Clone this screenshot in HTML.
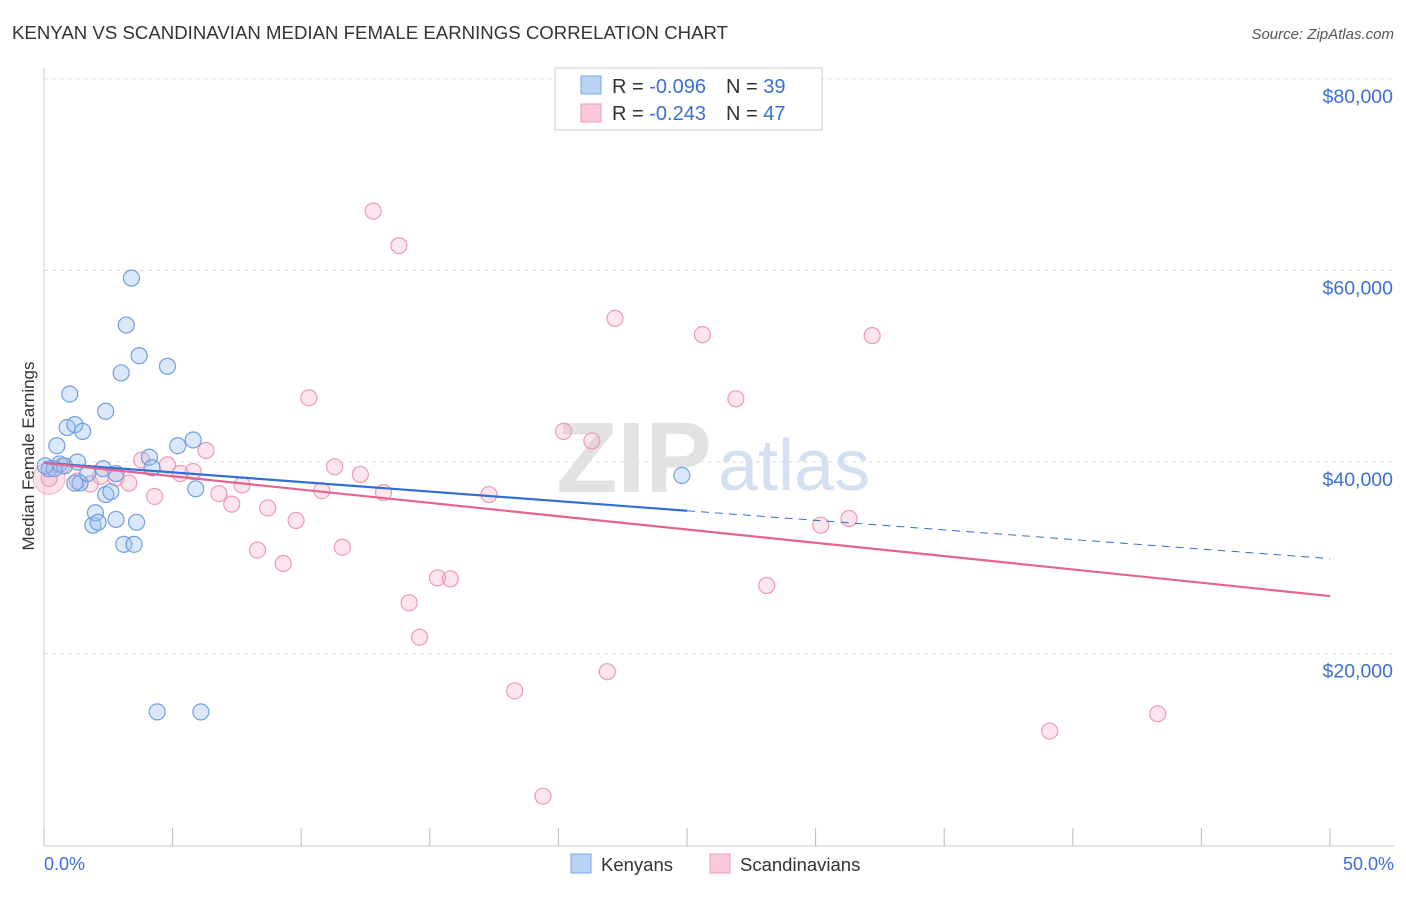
<!DOCTYPE html>
<html><head><meta charset="utf-8"><style>
body{margin:0;background:#fff;font-family:"Liberation Sans",sans-serif;}
svg text{font-family:"Liberation Sans",sans-serif;}
</style></head><body>
<svg id="c" width="1406" height="892" xmlns="http://www.w3.org/2000/svg">
<text x="12" y="39" font-size="18.6" fill="#333" textLength="716">KENYAN VS SCANDINAVIAN MEDIAN FEMALE EARNINGS CORRELATION CHART</text>
<text x="1394" y="39" font-size="15" fill="#555" text-anchor="end" font-style="italic">Source: ZipAtlas.com</text>
<g id="grid"></g>
<text x="712" y="492" font-size="100" fill="#e2e2e2" text-anchor="end" font-family="Liberation Serif" font-weight="bold">ZIP</text>
<text x="718" y="490" font-size="72" fill="#d3e0f2">atlas</text>
<line x1="44" y1="68" x2="44" y2="846" stroke="#ccc"/>
<line x1="44" y1="846" x2="1394" y2="846" stroke="#ccc"/>
<g id="ticks"></g>
<g id="ylabels"></g>
<text x="44" y="870" font-size="18" fill="#3b6fd4">0.0%</text>
<text x="1394" y="870" font-size="18" fill="#3b6fd4" text-anchor="end">50.0%</text>
<text transform="translate(34,456) rotate(-90)" font-size="17" fill="#333" text-anchor="middle">Median Female Earnings</text>
<g id="pts"></g>
<g id="lines"></g>
<g>
<rect x="555" y="68" width="267" height="62" fill="#fff" stroke="#ccc"/>
<rect x="581" y="76" width="20" height="18" fill="#b8d3f5" stroke="#7aa7e6"/>
<rect x="581" y="104" width="20" height="18" fill="#f9c9d8" stroke="#ee9ab5"/>
<text x="612" y="93" font-size="20" fill="#333">R = <tspan fill="#3b6fd4">-0.096</tspan><tspan dx="20">N = </tspan><tspan fill="#3b6fd4">39</tspan></text>
<text x="612" y="120" font-size="20" fill="#333">R = <tspan fill="#3b6fd4">-0.243</tspan><tspan dx="20">N = </tspan><tspan fill="#3b6fd4">47</tspan></text>
</g>
<g>
<rect x="571" y="854" width="20" height="19" fill="#b8d3f5" stroke="#7aa7e6"/>
<text x="601" y="871" font-size="18.5" fill="#333">Kenyans</text>
<rect x="710" y="854" width="20" height="19" fill="#f9c9d8" stroke="#ee9ab5"/>
<text x="740" y="871" font-size="18.5" fill="#333">Scandinavians</text>
</g>
</svg>
<script>
const yTicks=[20000,40000,60000,80000];
const yTickLabels=["$20,000","$40,000","$60,000","$80,000"];
const xTicks=[0,5,10,15,20,25,30,35,40,45,50];
const kenX=[0.2,0.5,0.6,0.8,1.0,0.9,1.2,1.5,1.3,1.4,1.2,1.9,2.0,2.1,2.3,2.4,2.4,2.6,2.8,2.8,3.0,3.2,3.1,3.5,3.4,3.7,3.6,4.1,4.2,4.4,4.8,5.2,5.8,5.9,6.1,24.8,1.7,0.4,0.05];
const kenY=[39300,41700,39800,39600,47100,43600,43900,43200,40000,37800,37800,33400,34700,33700,39300,45300,36600,36900,34000,38800,49300,54300,31400,31400,59200,51100,33700,40500,39400,13900,50000,41700,42300,37200,13900,38600,38800,39300,39600];
const scaX=[0.2,0.7,1.3,1.8,2.8,3.3,3.8,4.3,4.8,5.3,5.8,6.3,6.8,7.3,7.7,8.3,8.7,9.3,9.8,10.3,10.8,11.3,11.6,12.3,12.8,13.2,13.8,14.2,14.6,15.3,15.8,17.3,18.3,19.4,20.2,21.3,21.9,22.2,25.6,26.9,28.1,30.2,31.3,32.2,39.1,43.3,2.2];
const scaY=[38300,39600,38000,37700,38300,37800,40200,36400,39700,38800,39000,41200,36700,35600,37600,30800,35200,29400,33900,46700,37000,39500,31100,38700,66200,36800,62600,25300,21700,27900,27800,36600,16100,5100,43200,42200,18100,55000,53300,46600,27100,33400,34100,53200,11900,13700,38500];
const NS="http://www.w3.org/2000/svg";
const X=v=>44+v/50*1286, Y=v=>845-v/20000*191.5;
function mk(t,a,p){const e=document.createElementNS(NS,t);for(const k in a)e.setAttribute(k,a[k]);p.appendChild(e);return e;}
const g=document.getElementById('grid'),yl=document.getElementById('ylabels'),tk=document.getElementById('ticks');
yTicks.forEach((v,i)=>{
 const l=mk('line',{x1:44,x2:1394,y1:Y(v),y2:Y(v),stroke:'#ddd','stroke-dasharray':'4,4'},g);
 
 
 const t=mk('text',{x:1393,y:Y(v)+24,'font-size':19.5,fill:'#3b6fd4','text-anchor':'end'},yl);t.textContent=yTickLabels[i];
 
 
});
xTicks.forEach(v=>{const l=mk('line',{x1:X(v),x2:X(v),y1:828,y2:846,stroke:'#bbb'},tk);
 
 });
const pts=document.getElementById('pts');
mk('circle',{cx:X(0.2),cy:Y(38300),r:16,fill:'rgba(246,170,195,0.35)',stroke:'rgba(232,120,160,0.5)'},pts);
scaX.forEach((x,i)=>{const c=mk('circle',{cx:X(x),cy:Y(scaY[i]),r:8,fill:'rgba(246,170,195,0.3)',stroke:'#ec9ab6','stroke-width':1.2},pts);
 
 });
kenX.forEach((x,i)=>{const c=mk('circle',{cx:X(x),cy:Y(kenY[i]),r:8,fill:'rgba(150,190,240,0.35)',stroke:'#6f9fe0','stroke-width':1.2},pts);
 
 });
const ln=document.getElementById('lines');
function fit(xs,ys){const n=xs.length,mx=xs.reduce((a,b)=>a+b)/n,my=ys.reduce((a,b)=>a+b)/n;let sxy=0,sxx=0;xs.forEach((x,i)=>{sxy+=(x-mx)*(ys[i]-my);sxx+=(x-mx)**2});const b=sxy/sxx;return[my-b*mx,b];}
const [ka,kb]=fit(kenX,kenY),[sa,sb]=fit(scaX,scaY);
let l1=mk('line',{x1:X(0),y1:Y(ka),x2:X(25),y2:Y(ka+kb*25),stroke:'#2f6fd6','stroke-width':2.2},ln);


let l2=mk('line',{x1:X(25),y1:Y(ka+kb*25),x2:X(50),y2:Y(ka+kb*50),stroke:'#2f6fd6','stroke-width':1,'stroke-dasharray':'8,6'},ln);


let l3=mk('line',{x1:X(0),y1:Y(sa),x2:X(50),y2:Y(sa+sb*50),stroke:'#e5648e','stroke-width':2.2},ln);


</script>
</body></html>
